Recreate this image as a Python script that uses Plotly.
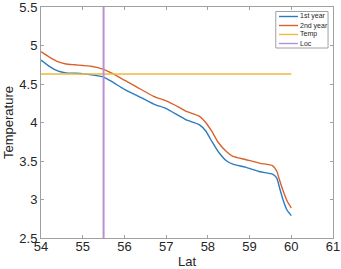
import plotly.graph_objects as go

lat = [54.0, 54.2, 54.4, 54.6, 54.8, 55.0, 55.2, 55.5, 55.7, 56.0, 56.3, 56.7, 57.0,
       57.3, 57.5, 57.8, 57.95, 58.1, 58.25, 58.45, 58.6, 58.9, 59.25, 59.55, 59.65,
       59.72, 59.8, 59.9, 60.0]
first_year = [4.81, 4.73, 4.67, 4.645, 4.64, 4.635, 4.62, 4.59, 4.53, 4.43, 4.35, 4.24, 4.18,
              4.09, 4.03, 3.97, 3.89, 3.75, 3.62, 3.50, 3.46, 3.42, 3.36, 3.33, 3.28,
              3.15, 3.00, 2.86, 2.79]
second_year = [4.92, 4.85, 4.79, 4.76, 4.75, 4.74, 4.73, 4.69, 4.64, 4.55, 4.46, 4.34, 4.28,
               4.20, 4.14, 4.08, 4.00, 3.88, 3.74, 3.62, 3.56, 3.52, 3.47, 3.44, 3.37,
               3.25, 3.12, 2.98, 2.89]
temp_x = [54, 60]
temp_y = [4.63, 4.63]
loc_x = [55.5, 55.5]
loc_y = [2.5, 5.5]

x_ticks = [54, 55, 56, 57, 58, 59, 60, 61]
y_ticks = [2.5, 3, 3.5, 4, 4.5, 5, 5.5]
y_tick_text = ["2.5", "3", "3.5", "4", "4.5", "5", "5.5"]

series_names = ["1st year", "2nd year", "Temp", "Loc"]
series_colors = ["#2A7CC0", "#D9622B", "#EDB940", "#BC8ED0"]

fig = go.Figure()
fig.add_trace(go.Scatter(x=lat, y=first_year, mode="lines", name=series_names[0],
                         line=dict(color=series_colors[0], width=1.4, shape="spline", smoothing=0.5)))
fig.add_trace(go.Scatter(x=lat, y=second_year, mode="lines", name=series_names[1],
                         line=dict(color=series_colors[1], width=1.4, shape="spline", smoothing=0.5)))
fig.add_trace(go.Scatter(x=temp_x, y=temp_y, mode="lines", name=series_names[2],
                         line=dict(color=series_colors[2], width=1.4)))
fig.add_trace(go.Scatter(x=loc_x, y=loc_y, mode="lines", name=series_names[3],
                         line=dict(color=series_colors[3], width=2)))

# compact MATLAB-style legend box (layout decoration)
shapes = [dict(type="rect", xref="paper", yref="paper", x0=0.804, x1=0.983, y0=0.8225, y1=0.9805,
               line=dict(color="#A0A0A0", width=1), fillcolor="white", layer="above")]
annotations = []
entry_y = [0.9589, 0.9199, 0.8810, 0.8420]
for name, color, ey in zip(series_names, series_colors, entry_y):
    shapes.append(dict(type="line", xref="paper", yref="paper", x0=0.815, x1=0.880, y0=ey, y1=ey,
                       line=dict(color=color, width=1.4), layer="above"))
    annotations.append(dict(xref="paper", yref="paper", x=0.884, y=ey, text=name, showarrow=False,
                            xanchor="left", yanchor="middle",
                            font=dict(size=7, color="#262626"), borderpad=0))

axis_common = dict(showgrid=False, zeroline=False, showline=True, mirror="ticks",
                   linecolor="#A0A0A0", linewidth=1, ticks="inside", ticklen=3,
                   tickcolor="#A0A0A0", automargin=False, ticklabeloverflow="allow",
                   tickfont=dict(family="Liberation Sans, Arial", size=13, color="#262626"))

fig.update_layout(
    width=341, height=269,
    margin=dict(l=41, r=8, t=7, b=31),
    paper_bgcolor="white", plot_bgcolor="white",
    showlegend=False,
    font=dict(family="Liberation Sans, Arial", color="#262626"),
    xaxis=dict(range=[54, 61], tickvals=x_ticks, ticktext=[str(v) for v in x_ticks],
               ticklabelstandoff=-4,
               title=dict(text="Lat", font=dict(size=13), standoff=6), **axis_common),
    yaxis=dict(range=[2.5, 5.5], tickvals=y_ticks, ticktext=y_tick_text,
               title=dict(text="Temperature", font=dict(size=13), standoff=2), **axis_common),
    shapes=shapes,
    annotations=annotations,
)

fig.write_html("out.html", config={"displayModeBar": False},
               post_script="document.body.style.margin='0';")
